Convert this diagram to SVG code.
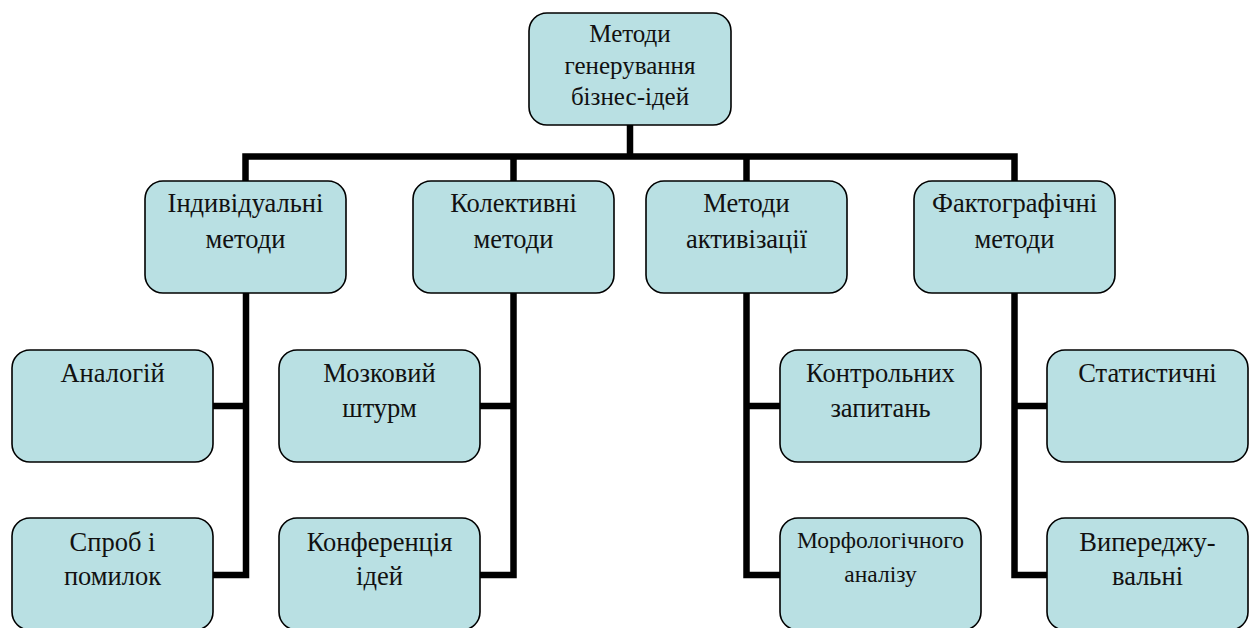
<svg xmlns="http://www.w3.org/2000/svg" width="1251" height="628" viewBox="0 0 1251 628">
<style>
.box{fill:#B9E0E3;stroke:#000;stroke-width:1.6}
.t{font-family:"Liberation Serif","Times New Roman",serif;font-size:26.5px;fill:#111;text-anchor:middle}
.r{font-size:25px}
.s{font-size:23.5px}
.c{fill:none;stroke:#000;stroke-width:6.5;stroke-linejoin:miter;stroke-linecap:butt}
</style>
<rect width="1251" height="628" fill="#fff"/>
<g id="connectors">
<path class="c" d="M630,125 V156.5"/>
<path class="c" d="M245.5,181 V156.5 H1014.5 V181"/>
<path class="c" d="M513.5,156.5 V181"/>
<path class="c" d="M746.5,156.5 V181"/>
<path class="c" d="M246,293 V575 H213"/>
<path class="c" d="M213,406 H246"/>
<path class="c" d="M513.5,293 V575 H480"/>
<path class="c" d="M480,406 H513.5"/>
<path class="c" d="M746.5,293 V575 H780"/>
<path class="c" d="M746.5,406 H780"/>
<path class="c" d="M1014.5,293 V575 H1047"/>
<path class="c" d="M1014.5,406 H1047"/>
</g>
<g id="root">
<rect class="box" x="529" y="13" width="202" height="112" rx="18"/>
<text class="t r" x="630" y="42">Методи</text>
<text class="t r" x="630" y="74">генерування</text>
<text class="t r" x="630" y="105">бізнес-ідей</text>
</g>
<g id="individual">
<rect class="box" x="145" y="181" width="201" height="112" rx="18"/>
<text class="t" x="245.5" y="212">Індивідуальні</text>
<text class="t" x="245.5" y="248">методи</text>
</g>
<g id="collective">
<rect class="box" x="413" y="181" width="201" height="112" rx="18"/>
<text class="t" x="513.5" y="212">Колективні</text>
<text class="t" x="513.5" y="248">методи</text>
</g>
<g id="activation">
<rect class="box" x="646" y="181" width="201" height="112" rx="18"/>
<text class="t" x="746.5" y="212">Методи</text>
<text class="t" x="746.5" y="248">активізації</text>
</g>
<g id="factographic">
<rect class="box" x="914" y="181" width="201" height="112" rx="18"/>
<text class="t" x="1014.5" y="212">Фактографічні</text>
<text class="t" x="1014.5" y="248">методи</text>
</g>
<g id="analogies">
<rect class="box" x="12" y="350" width="201" height="112" rx="18"/>
<text class="t" x="112.5" y="382">Аналогій</text>
</g>
<g id="trial-error">
<rect class="box" x="12" y="518" width="201" height="112" rx="18"/>
<text class="t" x="112.5" y="551">Спроб і</text>
<text class="t" x="112.5" y="585">помилок</text>
</g>
<g id="brainstorm">
<rect class="box" x="279" y="350" width="201" height="112" rx="18"/>
<text class="t" x="379.5" y="382">Мозковий</text>
<text class="t" x="379.5" y="417">штурм</text>
</g>
<g id="conference">
<rect class="box" x="279" y="518" width="201" height="112" rx="18"/>
<text class="t" x="379.5" y="551">Конференція</text>
<text class="t" x="379.5" y="585">ідей</text>
</g>
<g id="control-questions">
<rect class="box" x="780" y="350" width="201" height="112" rx="18"/>
<text class="t" x="880.5" y="382">Контрольних</text>
<text class="t" x="880.5" y="417">запитань</text>
</g>
<g id="morphological">
<rect class="box" x="780" y="518" width="201" height="112" rx="18"/>
<text class="t s" x="880.5" y="548">Морфологічного</text>
<text class="t s" x="880.5" y="582">аналізу</text>
</g>
<g id="statistical">
<rect class="box" x="1047" y="350" width="201" height="112" rx="18"/>
<text class="t" x="1147.5" y="382">Статистичні</text>
</g>
<g id="anticipatory">
<rect class="box" x="1047" y="518" width="201" height="112" rx="18"/>
<text class="t" x="1147.5" y="551">Випереджу-</text>
<text class="t" x="1147.5" y="585">вальні</text>
</g>
</svg>
